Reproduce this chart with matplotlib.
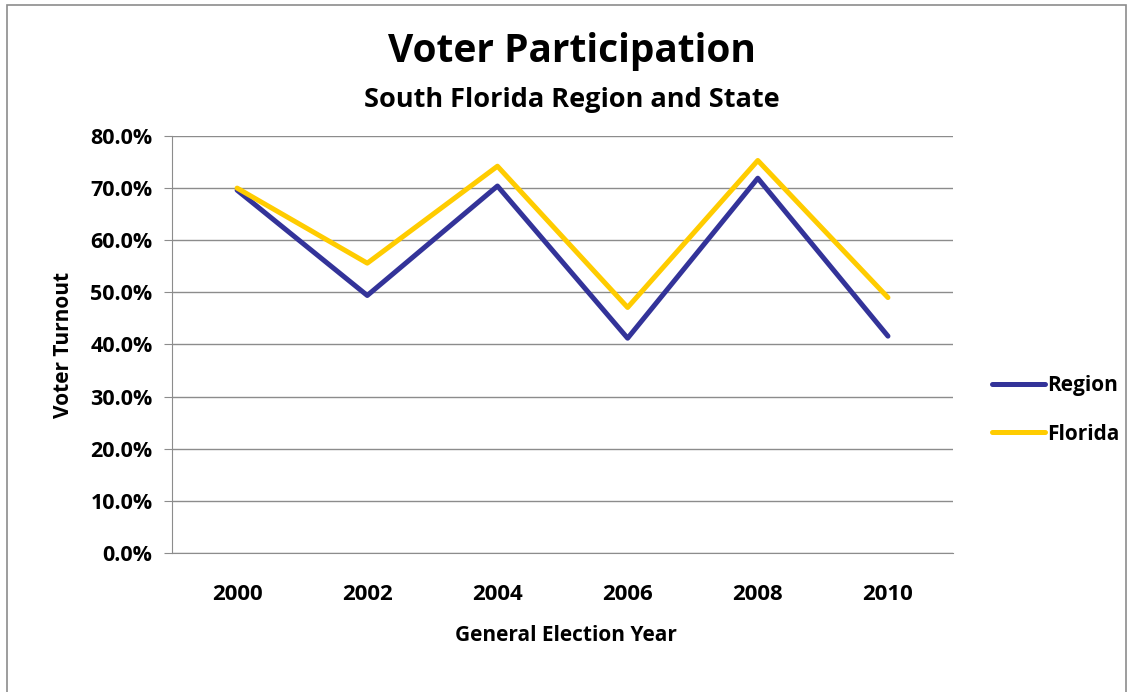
import matplotlib.pyplot as plt
from matplotlib.patches import Rectangle
from matplotlib.ticker import FuncFormatter

years = ['2000', '2002', '2004', '2006', '2008', '2010']
region = [69.6, 49.4, 70.4, 41.2, 71.9, 41.6]
florida = [70.0, 55.6, 74.2, 47.1, 75.3, 49.0]

plt.rcParams['font.family'] = ['Open Sans', 'DejaVu Sans']
plt.rcParams['font.weight'] = 'bold'

fig = plt.figure(figsize=(11.28, 6.92), dpi=100)
ax = fig.add_axes([0.1525, 0.2009, 0.6924, 0.6026])

x = range(len(years))
ax.plot(x, region, color='#333399', lw=3.6, label='Region', solid_capstyle='round')
ax.plot(x, florida, color='#FFCC00', lw=3.6, label='Florida', solid_capstyle='round')

ax.set_xlim(-0.5, len(years) - 0.5)
ax.set_ylim(0, 80)
ax.set_yticks(range(0, 81, 10))
ax.yaxis.set_major_formatter(FuncFormatter(lambda v, p: f'{v:.1f}%'))
ax.set_xticks(list(x))
ax.set_xticklabels(years)
ax.grid(axis='y', color='#8c8c8c', lw=1)
ax.set_axisbelow(True)
for s in ['top', 'right']:
    ax.spines[s].set_visible(False)
ax.spines['left'].set_color('#8c8c8c')
ax.spines['bottom'].set_color('#8c8c8c')
ax.tick_params(axis='y', length=6, color='#8c8c8c', labelsize=15.5, pad=8)
ax.tick_params(axis='x', length=0, labelsize=16, pad=22)

fig.text(0.507, 0.925, 'Voter Participation', ha='center', va='center', fontsize=28, fontweight='bold')
fig.text(0.507, 0.856, 'South Florida Region and State', ha='center', va='center', fontsize=19.5, fontweight='bold')
fig.text(0.502, 0.081, 'General Election Year', ha='center', va='center', fontsize=15, fontweight='bold')
fig.text(0.056, 0.501, 'Voter Turnout', ha='center', va='center', rotation=90, fontsize=15, fontweight='bold')

leg = fig.legend(loc='center left', bbox_to_anchor=(0.879, 0.4075), frameon=False, fontsize=15,
                 handlelength=2.55, labelspacing=1.3, handletextpad=0.1, borderpad=0, borderaxespad=0)

fig.add_artist(Rectangle((7 / 1128, -0.05), 1119 / 1128, 1.05 - 5 / 692, transform=fig.transFigure,
                         fill=False, edgecolor='#8c8c8c', lw=1.2))

fig.savefig('out.png', dpi=100)
